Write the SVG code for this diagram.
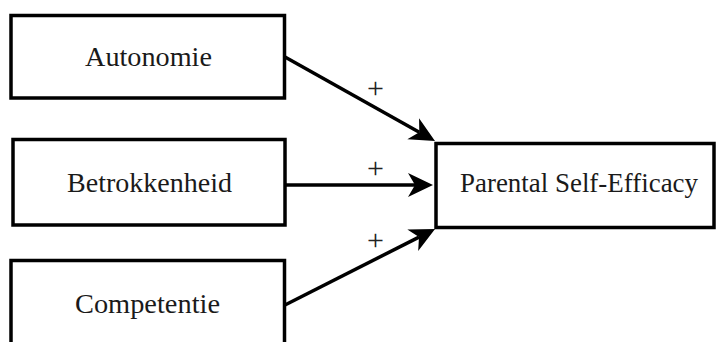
<svg xmlns="http://www.w3.org/2000/svg" width="716" height="342" viewBox="0 0 716 342">
<style>
.box{fill:#fff;stroke:#000;stroke-width:3.5}
.lbl{font-family:"Liberation Serif","Times New Roman",serif;font-size:27px;fill:#1a1a1a;text-anchor:middle}
.plus{font-family:"Liberation Serif","Times New Roman",serif;font-size:30px;fill:#222;text-anchor:middle}
.edge{stroke:#000;stroke-width:3.5;fill:none;marker-end:url(#ah)}
</style>
<defs>
<marker id="ah" markerUnits="userSpaceOnUse" viewBox="-26 -14 28 28" markerWidth="28" markerHeight="28" refX="-18" refY="0" orient="auto">
<path d="M0,0 L-25,-12 L-18,0 L-25,12 Z" fill="#000"/>
</marker>
</defs>
<rect width="716" height="342" fill="#fff"/>
<g id="autonomie">
<rect class="box" x="11" y="15.5" width="273.5" height="82.5"/>
<text class="lbl" x="148.5" y="66" textLength="127" lengthAdjust="spacingAndGlyphs">Autonomie</text>
</g>
<g id="betrokkenheid">
<rect class="box" x="13" y="139.5" width="272" height="85.5"/>
<text class="lbl" x="149.5" y="192" textLength="165" lengthAdjust="spacingAndGlyphs">Betrokkenheid</text>
</g>
<g id="competentie">
<rect class="box" x="11" y="260.5" width="273.5" height="90"/>
<text class="lbl" x="147.5" y="313" textLength="145" lengthAdjust="spacingAndGlyphs">Competentie</text>
</g>
<g id="pse">
<rect class="box" x="436" y="143.5" width="278" height="84"/>
<text class="lbl" x="579" y="192" textLength="238" lengthAdjust="spacingAndGlyphs">Parental Self-Efficacy</text>
</g>
<g id="connectors">
<line class="edge" x1="285" y1="57" x2="419.3" y2="132.2"/>
<line class="edge" x1="286" y1="185" x2="415" y2="185"/>
<line class="edge" x1="285" y1="305" x2="419" y2="237.1"/>
<text class="plus" x="375.5" y="97.5">+</text>
<text class="plus" x="375.5" y="178">+</text>
<text class="plus" x="375.5" y="249.5">+</text>
</g>
</svg>
